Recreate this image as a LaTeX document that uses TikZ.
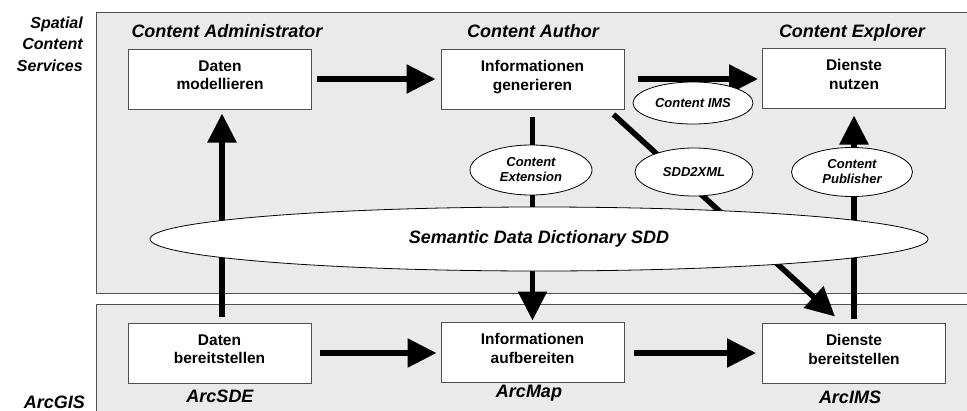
\documentclass[tikz,border=0pt]{standalone}
\usepackage{fontspec}
\setmainfont{Liberation Sans}
\usetikzlibrary{arrows.meta,shapes.geometric,positioning}
\definecolor{panelgray}{HTML}{EAEAEA}
\definecolor{edgegray}{HTML}{505050}

\begin{document}
\begin{tikzpicture}[x=1pt,y=-1pt,
		panel/.style={draw=edgegray,fill=panelgray,line width=1pt},
		box/.style={draw=edgegray,fill=white,line width=1pt,minimum width=183pt,minimum height=60pt,inner sep=0pt},
		boxtext/.style={anchor=north,inner sep=0pt,align=center,font=\fontsize{15.5}{18.5}\selectfont\bfseries},
		role/.style={anchor=base,inner sep=0pt,font=\fontsize{18}{21}\selectfont\bfseries\itshape},
		bubble/.style={ellipse,draw=black,fill=white,line width=0.8pt,inner sep=0pt,align=center,font=\fontsize{13}{15}\selectfont\bfseries\itshape},
		flow/.style={line width=5.5pt,-{Triangle[length=29pt,width=28pt]}}]
		\useasboundingbox (0,0) rectangle (967,410);
		\clip (0,0) rectangle (967,410);

		\draw[panel] (96,12) rectangle (980,293);
		\draw[panel] (96,304) rectangle (980,420);

		\node[anchor=north east,inner sep=0pt,align=right,font=\fontsize{16}{21.5}\selectfont\bfseries\itshape] (scs) at (83,16.5) {Spatial\\Content\\Services};
		\node[anchor=base east,inner sep=0pt,font=\fontsize{18}{21}\selectfont\bfseries\itshape] (arcgis) at (85,408) {ArcGIS};

		\node[role] (admin) at (227,37) {Content Administrator};
		\node[role] (author) at (533,37) {Content Author};
		\node[role] (explorer) at (852,37) {Content Explorer};

		\node[box] (dm) at (220,79) {};
		\node[box] (ig) at (532.5,79) {};
		\node[box] (dn) at (854,78) {};
		\node[box] (db) at (219.5,353) {};
		\node[box] (ia) at (532.5,352) {};
		\node[box] (dbs) at (854,353) {};

		\node[boxtext] (dm-t) at ([yshift=-12pt]dm.north) {Daten\\modellieren};
		\node[boxtext] (ig-t) at ([yshift=-12pt]ig.north) {Informationen\\generieren};
		\node[boxtext] (dn-t) at ([yshift=-12pt]dn.north) {Dienste\\nutzen};
		\node[boxtext] (db-t) at ([yshift=-12pt]db.north) {Daten\\bereitstellen};
		\node[boxtext] (ia-t) at ([yshift=-12pt]ia.north) {Informationen\\aufbereiten};
		\node[boxtext] (dbs-t) at ([yshift=-12pt]dbs.north) {Dienste\\bereitstellen};

		\node[role] (arcsde) at (220,402) {ArcSDE};
		\node[role] (arcmap) at (529,397) {ArcMap};
		\node[role] (arcims) at (850,403) {ArcIMS};

		\draw[flow,shorten <=5pt,shorten >=5pt] (dm) -- (ig);
		\draw[flow,shorten <=13pt,shorten >=4pt] (ig.east) -- (ig.east -| dn.west);
		\draw[flow,shorten <=8pt,shorten >=4pt] (db) -- (db -| ia.west);
		\draw[flow,shorten <=9pt,shorten >=6pt] (ia.east |- dbs) -- (dbs);
		\draw[flow,shorten <=6pt,shorten >=4pt] ([xshift=2.5pt]db.north) -- ([xshift=2pt]dm.south);
		\draw[flow,shorten <=7pt,shorten >=1pt] (ig) -- (ia);
		\draw[flow,shorten <=4pt,shorten >=7pt] (dbs) -- (dn);
		\draw[flow] ([xshift=-11pt,yshift=-5pt]ig.south east) -- ([xshift=-19pt,yshift=6pt]dbs.north);

		\node[bubble,minimum width=120pt,minimum height=42pt] (cims) at (693,103) {Content IMS};
		\node[bubble,minimum width=122pt,minimum height=50pt] (cext) at (531,170) {Content\\Extension};
		\node[bubble,minimum width=118pt,minimum height=48pt] (sdd2xml) at (694,172) {SDD2XML};
		\node[bubble,minimum width=121pt,minimum height=49pt] (cpub) at (852,172) {Content\\Publisher};
		\node[bubble,minimum width=778pt,minimum height=64pt,font=\fontsize{18}{21}\selectfont\bfseries\itshape] (sdd) at (539,239) {Semantic Data Dictionary SDD};
	\end{tikzpicture}
\end{document}
